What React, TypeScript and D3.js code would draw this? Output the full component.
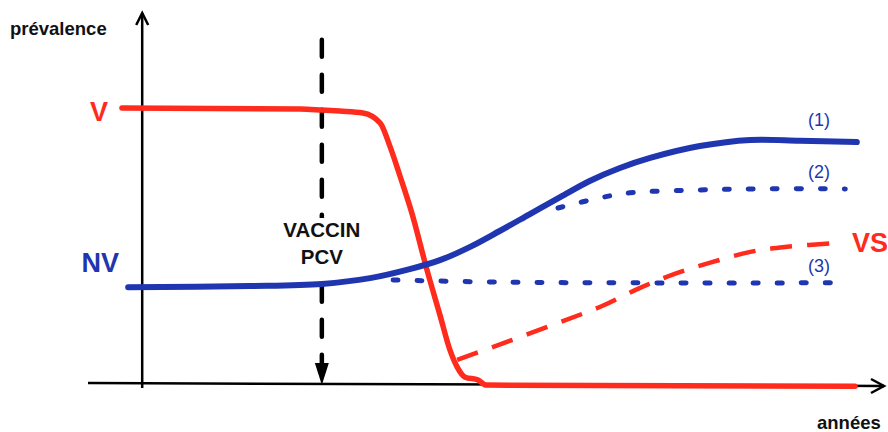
import React from "react";
import * as d3 from "d3";

// Schematic data (x: years in arbitrary units 0-100, y: prevalence 0-100)
const vaccineTypes: [number, number][] = [
  [-3.06, 76.7], [21.7, 76.4], [24.7, 76.1], [27.2, 75.8], [30.4, 75.3],
  [32.8, 72.5], [34.2, 65.8], [35.6, 57.5], [37.2, 47.5], [39.3, 31.7],
  [41.1, 19.2], [42.5, 9.4], [43.5, 4.7], [44.6, 1.9], [46.4, 1.1],
  [47.5, -0.3], [98.75, -0.6],
];
const nonVaccine1: [number, number][] = [
  [-2.2, 26.9], [14.7, 27.2], [24.7, 27.8], [31.4, 29.4], [36.9, 31.9],
  [41.1, 34.4], [45.3, 38.1], [49.4, 42.5], [53.6, 47.2], [57.8, 51.9],
  [61.9, 56.4], [66.1, 60.0], [70.3, 62.8], [77.2, 66.1], [84.2, 67.8],
  [91.1, 67.6], [99.0, 67.2],
];
const nonVaccine2: [number, number][] = [
  [57.5, 48.9], [63.3, 51.7], [67.5, 53.1], [77.2, 53.9], [85.6, 54.2], [97.4, 54.2],
];
const nonVaccine3: [number, number][] = [
  [34.6, 28.9], [49.4, 28.3], [68.2, 28.1], [95.7, 28.1],
];
const vaccineSwitch: [number, number][] = [
  [43.5, 6.7], [50.4, 11.7], [57.8, 17.2], [63.3, 21.4], [68.9, 26.7],
  [74.0, 30.8], [79.0, 33.9], [84.2, 36.7], [89.3, 38.1], [96.4, 39.2],
];
const vaccineIntroX = 24.7;
const vaccineIntroRange = [95.6, -0.3];

const RED = "#ff2b1c";
const BLUE = "#1f36b0";

export default function App() {
  const W = 888, H = 432;
  const x = d3.scaleLinear().domain([0, 100]).range([144, 864]);
  const y = d3.scaleLinear().domain([0, 100]).range([384, 24]);
  const smooth = d3
    .line<[number, number]>()
    .x((d) => x(d[0]))
    .y((d) => y(d[1]))
    .curve(d3.curveCatmullRom.alpha(0.5));
  const mono = d3
    .line<[number, number]>()
    .x((d) => x(d[0]))
    .y((d) => y(d[1]))
    .curve(d3.curveMonotoneX);

  const font = "'Liberation Sans', Arial, Helvetica, sans-serif";

  const yAxisX = x(-0.25);
  const yTop = 12;
  const xAxisRightX = 884;

  const vx = x(vaccineIntroX);
  const vy0 = y(vaccineIntroRange[0]);
  const vy1 = y(vaccineIntroRange[1]);

  return (
    <svg
      width={W}
      height={H}
      style={{ position: "fixed", left: 0, top: 0, background: "#fff" }}
      fontFamily={font}
    >
      <rect width={W} height={H} fill="#fff" />
      {/* axes */}
      <line x1={yAxisX} y1={388} x2={yAxisX} y2={yTop + 1} stroke="#000" strokeWidth={2.5} />
      <polyline
        points={`${yAxisX - 6},${yTop + 13} ${yAxisX},${yTop + 1} ${yAxisX + 6},${yTop + 13}`}
        fill="none" stroke="#000" strokeWidth={2.5} strokeLinejoin="miter"
      />
      <line x1={88} y1={383} x2={xAxisRightX} y2={386} stroke="#000" strokeWidth={2.5} />
      <polyline
        points={`${xAxisRightX - 13},${379} ${xAxisRightX},${386} ${xAxisRightX - 13},${393}`}
        fill="none" stroke="#000" strokeWidth={2.5}
      />

      {/* vaccine introduction */}
      <line x1={vx} y1={vy0} x2={vx} y2={vy1 - 20} stroke="#000" strokeWidth={4.5}
        strokeDasharray="17 18" strokeLinecap="round" />
      <path d={`M${vx - 7},${vy1 - 22} L${vx + 7},${vy1 - 22} L${vx},${vy1} Z`} fill="#000" />
      <rect x={vx - 44} y={218} width={88} height={52} fill="#fff" />
      <text x={vx} y={237} textAnchor="middle" fontWeight="bold" fontSize={20.5} fill="#111">VACCIN</text>
      <text x={vx} y={264} textAnchor="middle" fontWeight="bold" fontSize={20.5} fill="#111">PCV</text>

      {/* series */}
      <path d={smooth(vaccineSwitch) ?? ""} fill="none" stroke={RED} strokeWidth={4.5}
        strokeDasharray="22 15" />
      <path d={smooth(nonVaccine3) ?? ""} fill="none" stroke={BLUE} strokeWidth={5}
        strokeDasharray="5 19" strokeLinecap="round" />
      <path d={smooth(nonVaccine2) ?? ""} fill="none" stroke={BLUE} strokeWidth={5}
        strokeDasharray="5 19" strokeLinecap="round" />
      <path d={mono(vaccineTypes) ?? ""} fill="none" stroke={RED} strokeWidth={5.5}
        strokeLinecap="round" strokeLinejoin="round" />
      <path d={smooth(nonVaccine1) ?? ""} fill="none" stroke={BLUE} strokeWidth={6}
        strokeLinecap="round" strokeLinejoin="round" />

      {/* labels */}
      <text x={10} y={35} fontWeight="bold" fontSize={18.5} fill="#111">prévalence</text>
      <text x={817} y={429} fontWeight="bold" fontSize={18.5} fill="#111">années</text>
      <text x={108} y={121} textAnchor="end" fontWeight="bold" fontSize={27} fill={RED}>V</text>
      <text x={119} y={272} textAnchor="end" fontWeight="bold" fontSize={27} fill={BLUE}>NV</text>
      <text x={852} y={252} fontWeight="bold" fontSize={27} fill={RED}>VS</text>
      <text x={808} y={126} fontSize={18} fill={BLUE}>(1)</text>
      <text x={808} y={178} fontSize={18} fill={BLUE}>(2)</text>
      <text x={808} y={272} fontSize={18} fill={BLUE}>(3)</text>
    </svg>
  );
}
